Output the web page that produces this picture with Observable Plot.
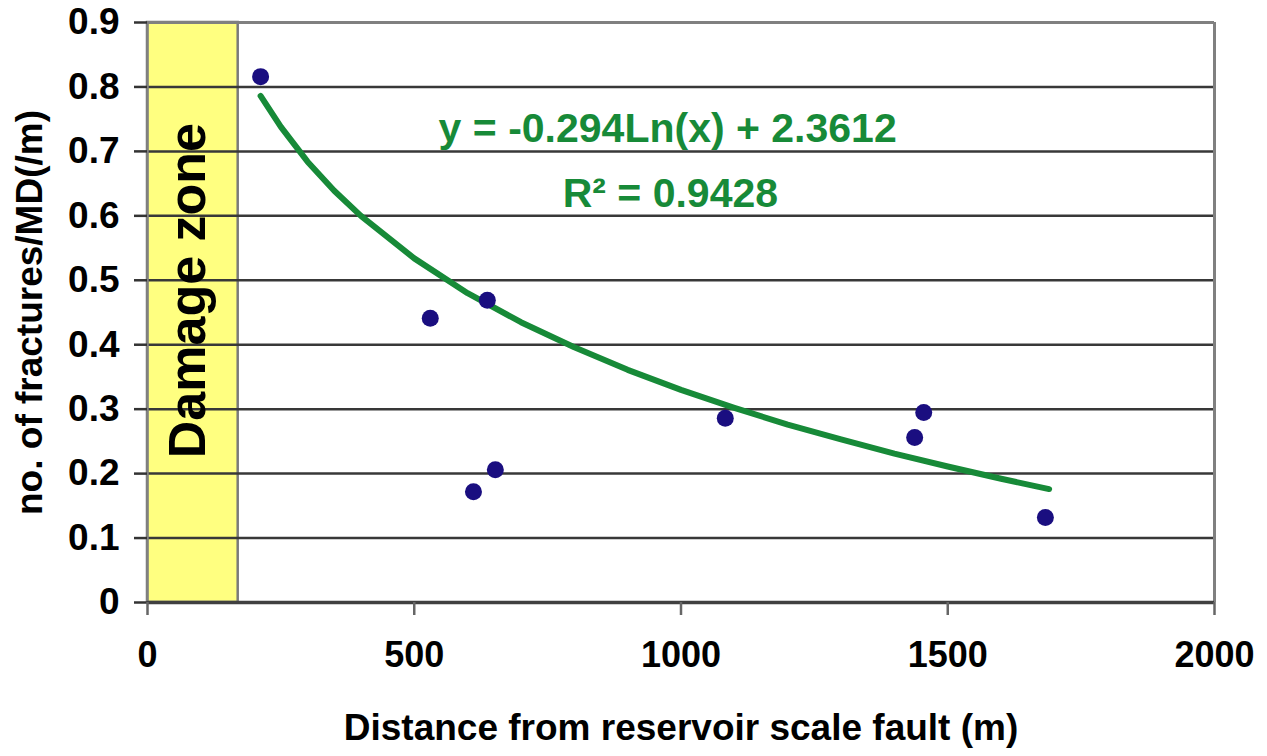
<!DOCTYPE html>
<html>
<head>
<meta charset="utf-8">
<script src="https://cdn.jsdelivr.net/npm/d3@7"></script>
<script src="https://cdn.jsdelivr.net/npm/@observablehq/plot@0.6"></script>
<style>
  html, body { margin: 0; padding: 0; background: #ffffff; }
  #chart { width: 1267px; height: 756px; }
  svg { font-family: "Liberation Sans", Arial, sans-serif; }
</style>
</head>
<body>
<div id="chart"></div>
<script>
// ---- data ----
const distance  = [212, 530, 637, 611, 652, 1083, 1438, 1455, 1683];
const fractures = [0.816, 0.441, 0.469, 0.172, 0.206, 0.286, 0.256, 0.295, 0.132];

// logarithmic trend line
const trendX = [212, 250, 300, 350, 400, 500, 600, 700, 800, 900, 1000, 1100, 1200, 1300, 1400, 1500, 1600, 1690];
const trendY = [0.786, 0.738, 0.684, 0.639, 0.600, 0.534, 0.480, 0.435, 0.396, 0.361, 0.330, 0.302, 0.276, 0.253, 0.231, 0.211, 0.192, 0.176];

const xTicks = [0, 500, 1000, 1500, 2000];
const yTicks = [0, 0.1, 0.2, 0.3, 0.4, 0.5, 0.6, 0.7, 0.8, 0.9];
const gridY  = [0.1, 0.2, 0.3, 0.4, 0.5, 0.6, 0.7, 0.8];
const damageZone = [0, 170];

const xTitle = "Distance from reservoir scale fault (m)";
const yTitle = "no. of fractures/MD(/m)";
const zoneLabel = "Damage zone";
const eqText = "y = -0.294Ln(x) + 2.3612";
const r2Text = "R\u00B2 = 0.9428";

// ---- tables built from the arrays ----
const points = distance.map((d, i) => ({x: d, y: fractures[i]}));
const trend  = trendX.map((d, i) => ({x: d, y: trendY[i]}));
const zone   = [{x1: damageZone[0], x2: damageZone[1], y1: 0, y2: 0.9}];

const green = "#178a38";
const font = "'Liberation Sans', Arial, sans-serif";

const chart = Plot.plot({
  width: 1267,
  height: 756,
  marginLeft: 147,
  marginRight: 53,
  marginTop: 22,
  marginBottom: 154,
  style: {fontFamily: font, background: "#ffffff"},
  x: {domain: [0, 2000]},
  y: {domain: [0, 0.9]},
  marks: [
    Plot.rect(zone, {x1: "x1", x2: "x2", y1: "y1", y2: "y2", fill: "#ffff80", stroke: "#7a7a7a", strokeWidth: 2.5}),
    Plot.ruleY(gridY, {stroke: "#383838", strokeWidth: 2.5}),
    Plot.ruleY([0.9], {stroke: "#808080", strokeWidth: 3}),
    Plot.ruleX([2000], {stroke: "#808080", strokeWidth: 3}),
    Plot.ruleX([0], {stroke: "#808080", strokeWidth: 2.5}),
    Plot.ruleY([0], {stroke: "#404040", strokeWidth: 3.5}),
    Plot.axisY({ticks: yTicks, tickSize: 13, tickPadding: 15, stroke: "#333", strokeWidth: 2.5,
      fontSize: 37, fontWeight: "bold", fill: "#000", label: null,
      tickFormat: d => d === 0 ? "0" : d.toFixed(1)}),
    Plot.axisX({ticks: xTicks, tickSize: 13, tickPadding: 26, stroke: "#666", strokeWidth: 2.5,
      fontSize: 36, fontWeight: "bold", fill: "#000", label: null,
      tickFormat: d => String(d)}),
    Plot.text([zoneLabel], {x: 77, y: 0.484, rotate: -90, fontSize: 52, fontWeight: "bold", fill: "#000"}),
    Plot.line(trend, {x: "x", y: "y", stroke: green, strokeWidth: 6, curve: "linear"}),
    Plot.dot(points, {x: "x", y: "y", r: 8.5, fill: "#1a0e80", stroke: "none"}),
    Plot.text([eqText], {x: 975, y: 0.714, lineAnchor: "bottom", textAnchor: "middle", fontSize: 41, fontWeight: "bold", fill: green}),
    Plot.text([r2Text], {x: 980, y: 0.613, lineAnchor: "bottom", textAnchor: "middle", fontSize: 41, fontWeight: "bold", fill: green}),
    Plot.text([xTitle], {frameAnchor: "bottom", lineAnchor: "middle", textAnchor: "middle", dy: 126, fontSize: 37, fontWeight: "bold", fill: "#000"}),
    Plot.text([yTitle], {frameAnchor: "left", textAnchor: "middle", lineAnchor: "middle", dx: -117, rotate: -90, fontSize: 37, fontWeight: "bold", fill: "#000"})
  ]
});

document.getElementById("chart").appendChild(chart);
</script>
</body>
</html>
